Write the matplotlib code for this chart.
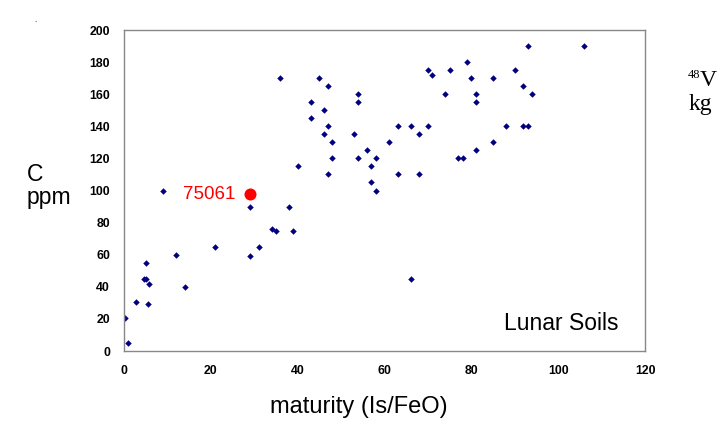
import matplotlib
matplotlib.use('Agg')
import matplotlib.pyplot as plt

plt.rcParams['font.family'] = ['Liberation Sans', 'DejaVu Sans']

# lunar soil samples: maturity (Is/FeO) vs carbon (ppm)
maturity = [0.3, 1, 2.8, 5.6, 5.7, 4.7, 5, 5, 12, 14, 21, 29, 31, 34, 35, 39, 29, 38,
            9, 36, 40, 43, 43, 45, 46, 46, 47, 47, 47, 48, 48, 53, 54, 54, 54, 56,
            57, 57, 58, 58, 61, 63, 63, 66, 66, 68, 68, 70, 70, 71, 74, 75, 77, 78,
            79, 80, 81, 81, 81, 85, 85, 88, 90, 92, 92, 93, 93, 94, 106]
carbon = [20.5, 5, 30.5, 29, 42, 45, 45, 55, 60, 40, 65, 59, 65, 76, 75, 75, 90, 90,
          100, 170, 115, 155, 145, 170, 150, 135, 165, 140, 110, 130, 120, 135, 160, 155, 120, 125,
          115, 105, 120, 100, 130, 140, 110, 140, 45, 135, 110, 140, 175, 172, 160, 175, 120, 120,
          180, 170, 160, 155, 125, 170, 130, 140, 175, 165, 140, 190, 140, 160, 190]

sample_name = '75061'
sample_x = 29
sample_y = 98

fig = plt.figure(figsize=(7.28, 4.38), dpi=100)
ax = fig.add_axes([0.1703, 0.1986, 0.7157, 0.7329])

ax.plot(maturity, carbon, linestyle='', marker='D', markersize=3.3,
        color='#000080', markeredgewidth=0)
# highlighted sample
ax.scatter([sample_x], [sample_y], marker='o', s=75, color='#ff0000',
           linewidths=0, zorder=3)
ax.text(sample_x - 3.4, sample_y - 0.5, sample_name, color='#ff0000', fontsize=13.5,
        ha='right', va='center')

ax.set_xlim(0, 120)
ax.set_ylim(0, 200)
ax.set_xticks(range(0, 121, 20))
ax.set_yticks(range(0, 201, 20))
ax.tick_params(length=0, labelsize=8.8, pad=10)
for lab in ax.get_xticklabels() + ax.get_yticklabels():
    lab.set_fontweight('bold')
for sp in ax.spines.values():
    sp.set_color('#888888')
    sp.set_linewidth(1)

ax.text(0.95, 0.085, 'Lunar Soils', transform=ax.transAxes, fontsize=16.5,
        ha='right', va='center')

fig.text(0.493, 0.071, 'maturity (Is/FeO)', fontsize=17, ha='center', va='center')
fig.text(0.037, 0.576, 'C\nppm', fontsize=16.5, ha='left', va='center', linespacing=1.0)
fig.text(0.047, 0.95, '.', fontsize=6)

# cut-off text from the neighbouring slide area
fig.text(0.945, 0.822, '48', fontsize=9, family='Liberation Serif',
         ha='left', va='baseline')
fig.text(0.961, 0.804, 'V', fontsize=17, family='Liberation Serif',
         ha='left', va='baseline')
fig.text(0.946, 0.749, 'kg', fontsize=17, family='Liberation Serif',
         ha='left', va='baseline')

fig.savefig('out.png', dpi=100)
